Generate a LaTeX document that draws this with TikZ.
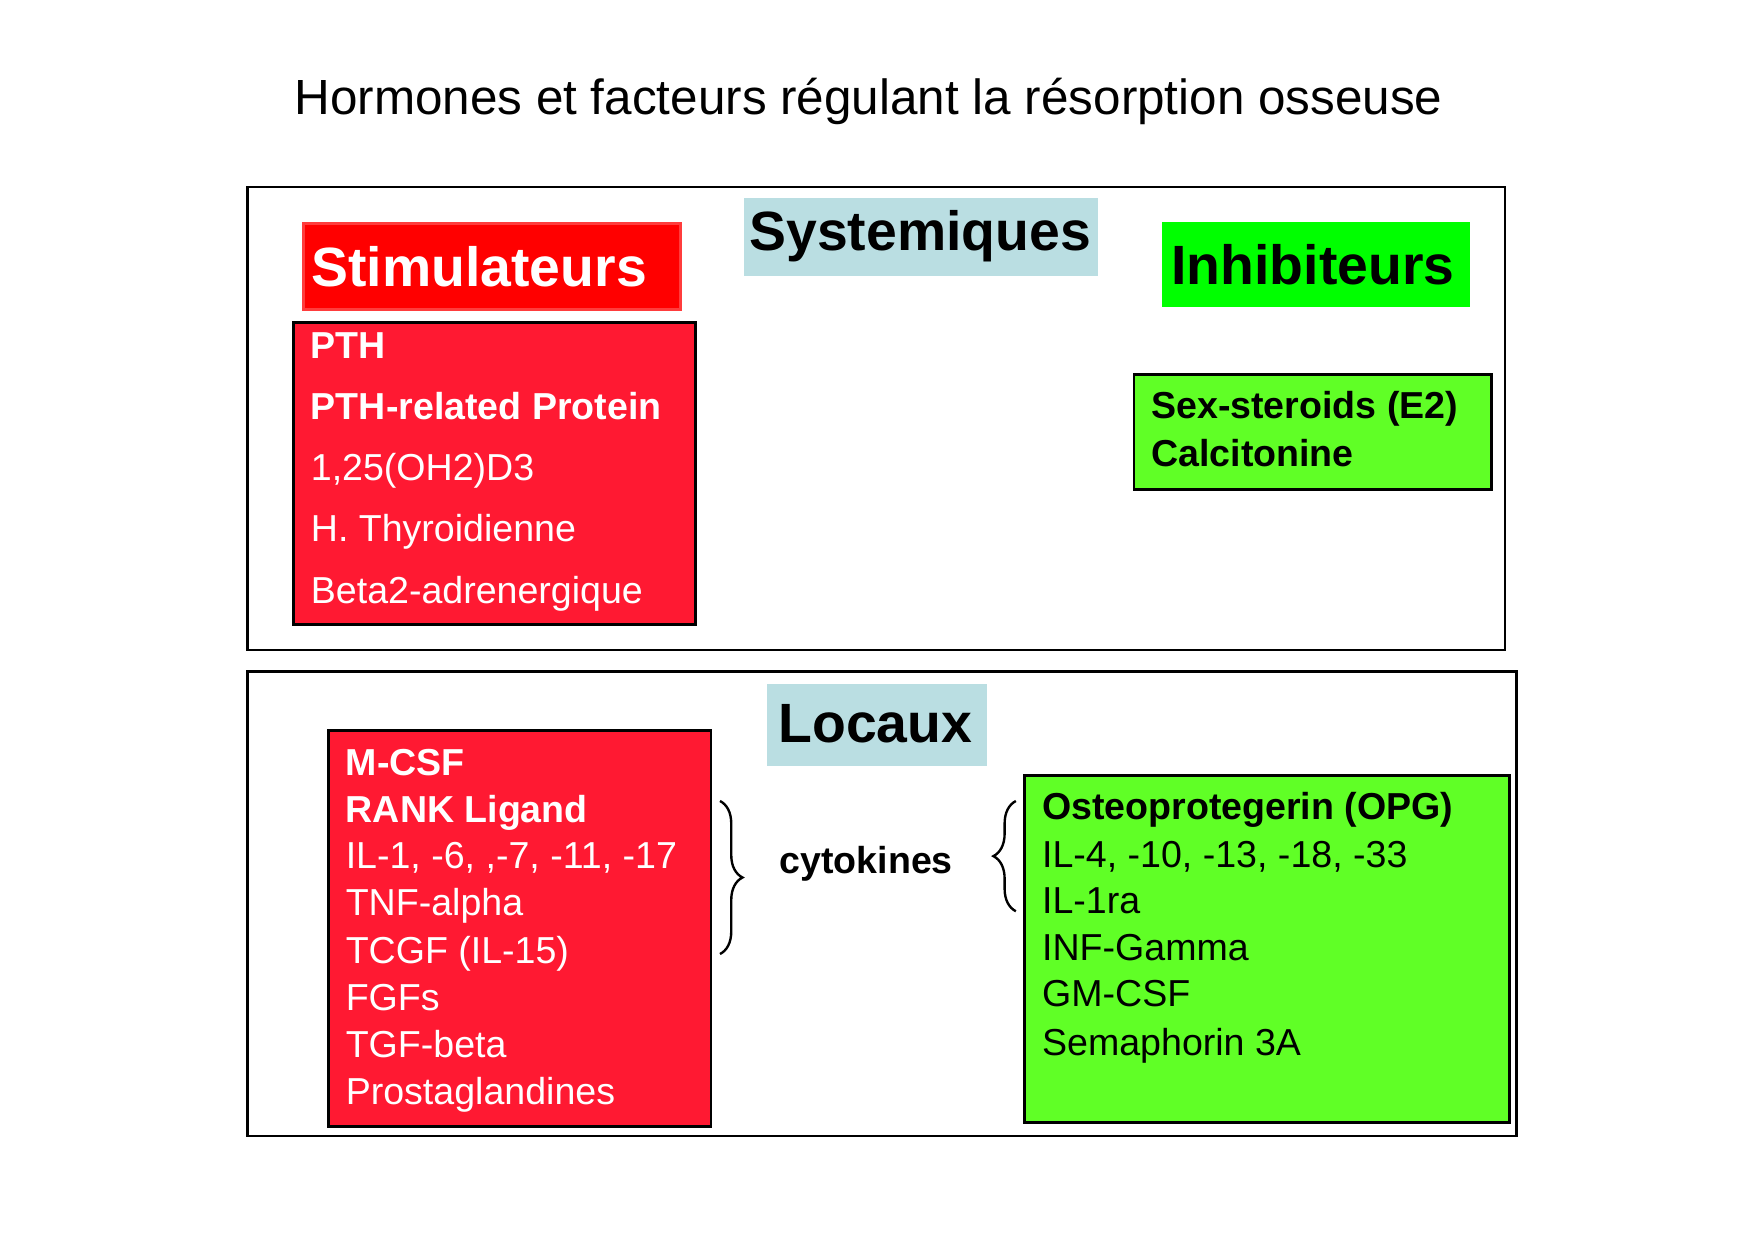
\documentclass[tikz,border=0pt]{standalone}
\usepackage{fontspec}
\setmainfont{Liberation Sans}
\usetikzlibrary{decorations.pathreplacing}
\definecolor{bluebg}{RGB}{186,222,226}
\definecolor{redA}{RGB}{255,0,0}
\definecolor{redB}{RGB}{255,25,50}
\definecolor{redE}{RGB}{255,60,60}
\definecolor{greenA}{RGB}{0,255,0}
\definecolor{greenB}{RGB}{96,255,38}
\begin{document}
\begin{tikzpicture}[x=0.02cm,y=-0.02cm,
  frame/.style={draw=black,line width=1.2pt},
  box/.style={draw=black,line width=1.5pt},
  item/.style={anchor=base west,inner sep=0,font=\fontsize{19}{22}\selectfont,text=#1},
  head/.style={inner sep=0,font=\fontsize{28}{32}\selectfont\bfseries},
  brc/.style={decorate,decoration={brace,amplitude=0.4cm},line width=1.2pt}]
\useasboundingbox (0,0) rectangle (1560,1102);
\node[inner sep=0,font=\fontsize{25}{30}\selectfont] (title) at (772,90) {Hormones et facteurs régulant la résorption osseuse};
% systemic
\draw[frame] (220,166) rectangle (1338,578);
\fill[bluebg] (661,176) rectangle (976,245);
\node[head] (sys) at (818,210) {Systemiques};
\draw[redE,fill=redA,line width=1.5pt] (270,199) rectangle (605,275);
\node[head,text=white] (stim) at (426,237) {Stimulateurs};
\fill[greenA] (1033,197) rectangle (1307,273);
\node[head] (inh) at (1167,235) {Inhibiteurs};
\draw[box,fill=redB] (261,287) rectangle (618,555);
\node[item=white,font=\fontsize{19}{22}\selectfont\bfseries] (s1) at (276,319) {PTH};
\node[item=white,font=\fontsize{19}{22}\selectfont\bfseries] (s2) at (276,373) {PTH-related Protein};
\node[item=white] (s3) at (276,427) {1,25(OH2)D3};
\node[item=white] (s4) at (276,481) {H. Thyroidienne};
\node[item=white] (s5) at (276,536) {Beta2-adrenergique};
\draw[box,fill=greenB] (1008,333) rectangle (1326,435);
\node[item=black,font=\fontsize{19}{22}\selectfont\bfseries] (g1) at (1023,372) {Sex-steroids (E2)};
\node[item=black,font=\fontsize{19}{22}\selectfont\bfseries] (g2) at (1023,415) {Calcitonine};
% local
\draw[frame] (220,597) rectangle (1348,1010);
\fill[bluebg] (682,608) rectangle (877,681);
\node[head] (loc) at (778,643) {Locaux};
\draw[box,fill=redB] (292,649) rectangle (632,1001);
\node[item=white,font=\fontsize{19}{22}\selectfont\bfseries] (r1) at (307,689) {M-CSF};
\node[item=white,font=\fontsize{19}{22}\selectfont\bfseries] (r2) at (307,731) {RANK Ligand};
\node[item=white] (r3) at (307,772) {IL-1, -6, ,-7, -11, -17};
\node[item=white] (r4) at (307,814) {TNF-alpha};
\node[item=white] (r5) at (307,856) {TCGF (IL-15)};
\node[item=white] (r6) at (307,898) {FGFs};
\node[item=white] (r7) at (307,940) {TGF-beta};
\node[item=white] (r8) at (307,982) {Prostaglandines};
\draw[box,fill=greenB] (911,689) rectangle (1342,998);
\node[item=black,font=\fontsize{19}{22}\selectfont\bfseries] (q1) at (926,728) {Osteoprotegerin (OPG)};
\node[item=black] (q2) at (926,771) {IL-4, -10, -13, -18, -33};
\node[item=black] (q3) at (926,812) {IL-1ra};
\node[item=black] (q4) at (926,854) {INF-Gamma};
\node[item=black] (q5) at (926,895) {GM-CSF};
\node[item=black] (q6) at (926,938) {Semaphorin 3A};
\node[inner sep=0,font=\fontsize{19}{22}\selectfont\bfseries] (cyt) at (770,768) {cytokines};
\coordinate (la) at (640,712); \coordinate (lb) at (640,848);
\coordinate (ra) at (903,810); \coordinate (rb) at (903,712);
\draw[brc] (la) -- (lb);
\draw[brc] (ra) -- (rb);
\end{tikzpicture}
\end{document}
